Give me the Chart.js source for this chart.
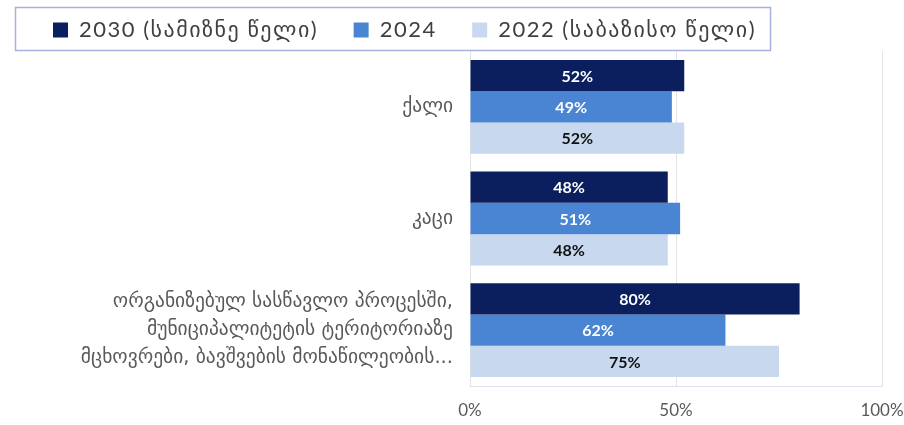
<!DOCTYPE html>
<html>
<head>
<meta charset="utf-8">
<script src="https://cdn.jsdelivr.net/npm/chart.js@4"></script>
<style>
  html, body { margin: 0; padding: 0; background: #ffffff; }
  #wrap { width: 904px; height: 425px; position: relative; }
</style>
</head>
<body>
<div id="wrap"><canvas id="c" width="904" height="425"></canvas></div>
<script>
const categories = [
  'ქალი',
  'კაცი',
  ['ორგანიზებულ სასწავლო პროცესში,', 'მუნიციპალიტეტის ტერიტორიაზე', 'მცხოვრები, ბავშვების მონაწილეობის...']
];
const seriesLabels = ['2030 (სამიზნე წელი)', '2024', '2022 (საბაზისო წელი)'];
const values2030 = [52, 48, 80];
const values2024 = [49, 51, 62];
const values2022 = [52, 48, 75];
const xTicks = [0, 50, 100];

const colors = ['#0b1f5e', '#4a85d3', '#c8d8ef'];
const labelColors = ['#ffffff', '#ffffff', '#111111'];
const FONT = "Lato, 'DejaVu Sans', sans-serif";
const GEO = "'DejaVu Sans', sans-serif";

function wrapSpacing(obj, name, ls) {
  const orig = obj[name];
  obj[name] = function (...args) {
    const ctx = this.ctx;
    const prev = ctx.letterSpacing;
    ctx.letterSpacing = ls;
    try { return orig.apply(this, args); } finally { ctx.letterSpacing = prev || '0px'; }
  };
}

const spacingPatch = {
  id: 'spacingPatch',
  beforeLayout(chart) {
    const lg = chart.legend;
    if (lg && !lg._lsPatched) {
      lg._lsPatched = true;
      wrapSpacing(lg, 'fit', '1.5px');
      wrapSpacing(lg, 'draw', '1.5px');
    }
  }
};

const valueLabels = {
  id: 'valueLabels',
  afterDatasetsDraw(chart) {
    const ctx = chart.ctx;
    ctx.save();
    ctx.letterSpacing = '0px';
    ctx.font = "bold 16px " + FONT;
    ctx.textAlign = 'center';
    ctx.textBaseline = 'middle';
    chart.data.datasets.forEach((ds, di) => {
      const meta = chart.getDatasetMeta(di);
      meta.data.forEach((bar, i) => {
        const p = bar.getProps(['x', 'y', 'base'], true);
        ctx.fillStyle = labelColors[di];
        ctx.fillText(ds.data[i] + '%', (p.x + p.base) / 2, p.y + 1);
      });
    });
    ctx.restore();
  }
};

const legendBorder = {
  id: 'legendBorder',
  afterDraw(chart) {
    const ctx = chart.ctx;
    ctx.save();
    ctx.strokeStyle = '#a8b0dc';
    ctx.lineWidth = 1.5;
    ctx.strokeRect(15.5, 7.5, 755, 43);
    ctx.restore();
  }
};

new Chart(document.getElementById('c'), {
  type: 'bar',
  data: {
    labels: categories,
    datasets: [
      { label: seriesLabels[0], data: values2030, backgroundColor: colors[0] },
      { label: seriesLabels[1], data: values2024, backgroundColor: colors[1] },
      { label: seriesLabels[2], data: values2022, backgroundColor: colors[2] }
    ]
  },
  options: {
    indexAxis: 'y',
    responsive: false,
    animation: false,
    devicePixelRatio: 1,
    categoryPercentage: 0.84,
    barPercentage: 1.0,
    layout: { padding: { left: 17.5, right: 0, top: -28, bottom: 0 } },
    plugins: {
      legend: {
        position: 'top',
        align: 'start',
        labels: {
          boxWidth: 15,
          boxHeight: 15,
          padding: 35.5,
          color: '#404040',
          font: { family: FONT, size: 22 }
        }
      },
      tooltip: { enabled: false }
    },
    scales: {
      x: {
        min: 0,
        max: 100,
        afterBuildTicks(scale) { scale.ticks = xTicks.map(v => ({ value: v })); },
        afterFit(scale) { scale.height = 39; scale.paddingRight = 22; scale.paddingLeft = 0; },
        ticks: {
          callback: v => v + '%',
          color: '#595959',
          font: { family: FONT, size: 17 },
          padding: 14
        },
        grid: { color: '#e3e3e3', drawTicks: false },
        border: { display: true, color: '#dde3ea' }
      },
      y: {
        afterFit(scale) { scale.width = 452.5; },
        ticks: {
          color: '#595959',
          font: { family: GEO, size: 19.5, lineHeight: 1.436 },
          padding: 9
        },
        grid: { display: false },
        border: { display: false }
      }
    }
  },
  plugins: [spacingPatch, valueLabels, legendBorder]
});
</script>
</body>
</html>
